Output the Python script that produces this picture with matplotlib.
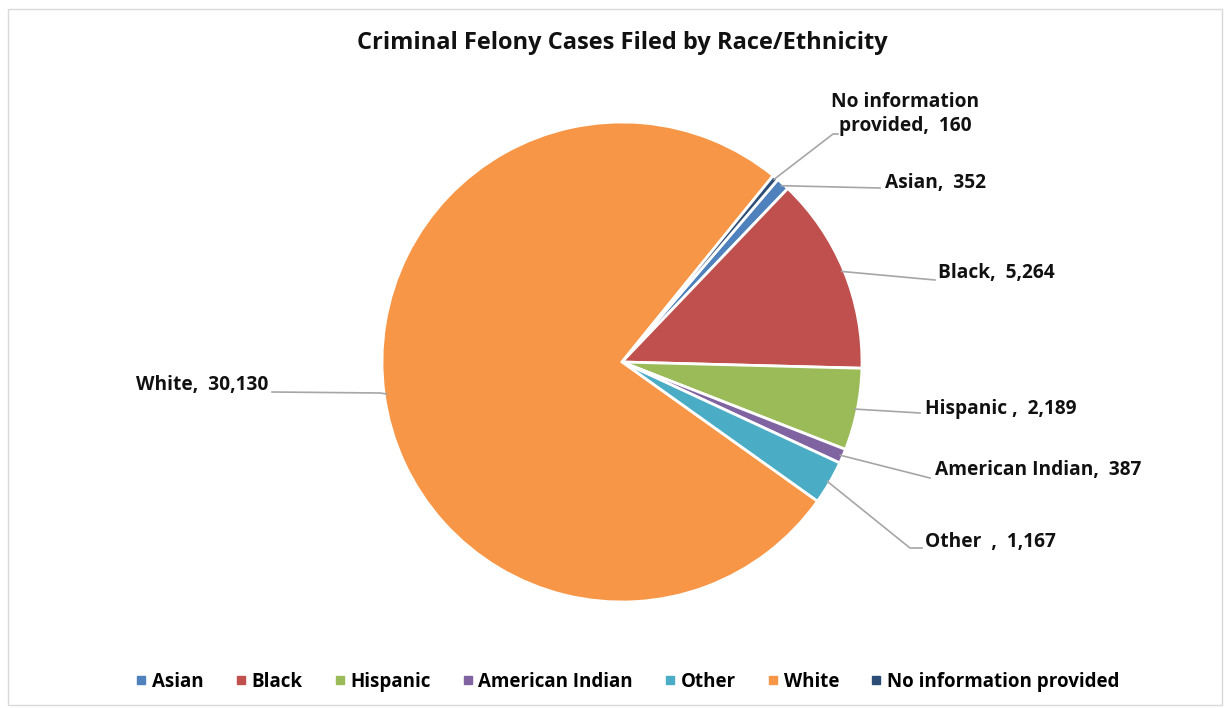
import numpy as np
import matplotlib.pyplot as plt
from matplotlib.lines import Line2D
from matplotlib.patches import Rectangle

categories = ['Asian', 'Black', 'Hispanic', 'American Indian', 'Other', 'White',
              'No information provided']
values = [352, 5264, 2189, 387, 1167, 30130, 160]
label_texts = ['Asian,  352', 'Black,  5,264', 'Hispanic ,  2,189',
               'American Indian,  387', 'Other  ,  1,167', 'White,  30,130',
               'No information\nprovided,  160']
colors = ['#4F81BD', '#C0504D', '#9BBB59', '#8064A2', '#4BACC6', '#F79646', '#2C4D75']

W, H = 1228, 708
CX, CY, R = 622, H - 362, 240

# label anchor (end of leader line, text position, alignment) in pixels, y from top
label_layout = [
    ((880, 188), None, (885, 183), 'left'),
    ((935, 280), None, (938, 273), 'left'),
    ((920, 413), None, (925, 409), 'left'),
    ((930, 478), None, (935, 470), 'left'),
    ((910, 548), (922, 548), (925, 542), 'left'),
    ((380, 393), (272, 392), (268, 385), 'right'),
    ((833, 134), (838, 134), (905, 114), 'center'),
]

plt.rcParams['font.family'] = ['Open Sans', 'DejaVu Sans']

fig = plt.figure(figsize=(W / 100, H / 100), dpi=100)
ax = fig.add_axes([0, 0, 1, 1])

# chart border
ax.add_patch(Rectangle((8, 3), W - 14, H - 12, fill=False, edgecolor='#d9d9d9', linewidth=1))

wedges, _ = ax.pie(values, colors=colors, startangle=49.5, counterclock=False,
                   center=(CX, CY), radius=R, frame=True,
                   wedgeprops=dict(edgecolor='white', linewidth=2))
ax.set_xlim(0, W)
ax.set_ylim(0, H)
ax.set_aspect('equal')
ax.axis('off')

for w, text, (p1, p2, tp, ha) in zip(wedges, label_texts, label_layout):
    ang = np.deg2rad((w.theta1 + w.theta2) / 2)
    sx = CX + R * 0.99 * np.cos(ang)
    sy = CY + R * 0.99 * np.sin(ang)
    xs = [sx, p1[0]]
    ys = [sy, H - p1[1]]
    if p2 is not None:
        xs.append(p2[0])
        ys.append(H - p2[1])
    ax.plot(xs, ys, color='#a6a6a6', linewidth=1.2, zorder=3)
    ax.text(tp[0], H - tp[1], text, ha=ha, va='center', fontsize=13.8,
            fontweight='bold', color='#111111', linespacing=1.25)

ax.text(622, H - 43, 'Criminal Felony Cases Filed by Race/Ethnicity', ha='center',
        va='center', fontsize=17, fontweight='bold', color='#111111')

handles = [Line2D([], [], marker='s', linestyle='none', markersize=6,
                  markerfacecolor=c, markeredgecolor=c) for c in colors]
fig.legend(handles, categories, loc='center', bbox_to_anchor=(0.509, 1 - 682 / H),
           ncol=7, frameon=False, handletextpad=0.0, columnspacing=1.45,
           handlelength=1.1, prop={'weight': 'bold', 'size': 13.5})

fig.savefig('out.png', dpi=100)
